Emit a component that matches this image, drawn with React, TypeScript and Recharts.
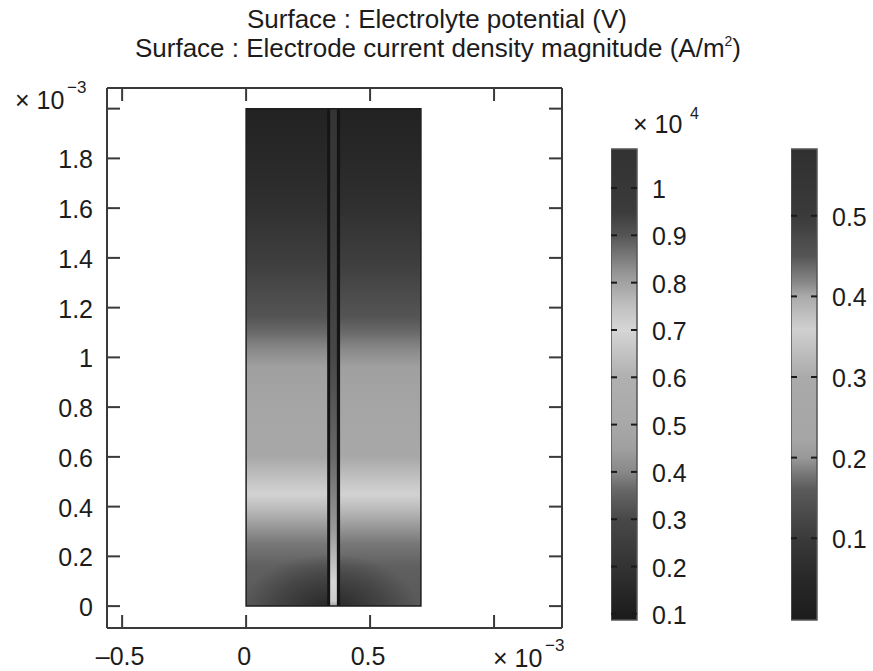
import React from "react";
import { ComposedChart, ReferenceArea, Scatter, XAxis, YAxis } from "recharts";

const FONT = "'Liberation Sans', Arial, Helvetica, sans-serif";
const INK = "#1c1c1c";
const FRAME = "#3a3a3a";
const LABEL_SIZE = 25;

// geometry in units of 1e-3 m
const xTicks = [-0.5, 0, 0.5, 1];
const xTickLabels = ["–0.5", "0", "0.5", ""];
const yTicks = [0, 0.2, 0.4, 0.6, 0.8, 1, 1.2, 1.4, 1.6, 1.8, 2];
const yTickLabels = ["0", "0.2", "0.4", "0.6", "0.8", "1", "1.2", "1.4", "1.6", "1.8", ""];
const xDomain = [-0.561, 1.274];
const yDomain = [-0.088, 2.083];

const cellX = [0, 0.705];
const cellY = [0, 2];
const electrodeX = [0.327, 0.379];
const electrodeCoreX = [0.339, 0.366];
const bottomShadowY = [0, 0.42];

// electrolyte potential shading along the cell height (y, gray level)
const fieldY = [2.0, 1.8, 1.6, 1.36, 1.16, 1.1, 1.03, 0.96, 0.8, 0.6, 0.49, 0.45, 0.39, 0.32, 0.25, 0.16, 0.02, 0];
const fieldGray = [34, 40, 48, 64, 85, 106, 138, 160, 165, 168, 200, 210, 187, 153, 119, 96, 90, 90];

// electrode current density along the electrode
const coreY = [2, 1.5, 1.0, 0.6, 0.3, 0.1, 0.02, 0];
const coreGray = [52, 58, 72, 105, 155, 212, 205, 160];

// colorbar: electrode current density (x 10^4 A/m^2)
const currentTicks = [0.1, 0.2, 0.3, 0.4, 0.5, 0.6, 0.7, 0.8, 0.9, 1];
const currentDomain = [0.087, 1.0825];
const currentStopV = [1.0825, 1.0, 0.948, 0.9, 0.82, 0.75, 0.7, 0.644, 0.6, 0.5, 0.45, 0.4, 0.36, 0.3, 0.2, 0.087];
const currentStopGray = [50, 55, 60, 85, 150, 192, 214, 192, 176, 168, 160, 136, 102, 72, 51, 26];

// colorbar: electrolyte potential (V)
const potentialTicks = [0.1, 0.2, 0.3, 0.4, 0.5];
const potentialDomain = [-0.0014, 0.5828];
const potentialStopV = [0.5828, 0.5, 0.45, 0.417, 0.4, 0.359, 0.326, 0.3, 0.222, 0.2, 0.18, 0.16, 0.1, 0.05, -0.0014];
const potentialStopGray = [48, 58, 85, 136, 170, 208, 187, 170, 165, 153, 119, 90, 58, 40, 28];

const gray = (g: number) => `rgb(${g},${g},${g})`;
const noShape = () => <g />;

const BottomTick = (p: any) => {
  const i = xTicks.indexOf(p.payload.value);
  return (
    <g>
      <line x1={p.x} x2={p.x} y1={p.y} y2={p.y - 13} stroke={FRAME} strokeWidth={2} />
      <text x={p.x - 2} y={p.y + 37} textAnchor="middle" fontSize={LABEL_SIZE} fontFamily={FONT} fill={INK}>
        {xTickLabels[i]}
      </text>
    </g>
  );
};

const TopTick = (p: any) => (
  <line x1={p.x} x2={p.x} y1={p.y} y2={p.y + 13} stroke={FRAME} strokeWidth={2} />
);

const LeftTick = (p: any) => {
  const i = yTicks.indexOf(p.payload.value);
  return (
    <g>
      <line x1={p.x} x2={p.x + 13} y1={p.y} y2={p.y} stroke={FRAME} strokeWidth={2} />
      <text x={p.x - 14} y={p.y + 10} textAnchor="end" fontSize={LABEL_SIZE} fontFamily={FONT} fill={INK}>
        {yTickLabels[i]}
      </text>
    </g>
  );
};

const RightTick = (p: any) => (
  <line x1={p.x} x2={p.x - 13} y1={p.y} y2={p.y} stroke={FRAME} strokeWidth={2} />
);

const BAR_W = 26;

const ColorBar = ({
  id,
  left,
  top,
  height,
  domain,
  ticks,
  stopV,
  stopGray,
}: {
  id: string;
  left: number;
  top: number;
  height: number;
  domain: number[];
  ticks: number[];
  stopV: number[];
  stopGray: number[];
}) => {
  const span = domain[1] - domain[0];
  const ends = [
    { x: 0, v: domain[0] },
    { x: 1, v: domain[1] },
  ];
  const barTick = (p: any) => (
    <g>
      <line x1={p.x - BAR_W} x2={p.x - BAR_W + 6} y1={p.y} y2={p.y} stroke="#1a1a1a" strokeWidth={2} />
      <line x1={p.x - 6} x2={p.x} y1={p.y} y2={p.y} stroke="#1a1a1a" strokeWidth={2} />
      <text x={p.x + 15} y={p.y + 10} textAnchor="start" fontSize={LABEL_SIZE} fontFamily={FONT} fill={INK}>
        {String(p.payload.value)}
      </text>
    </g>
  );
  return (
    <div style={{ position: "absolute", left, top: top - 20 }}>
      <ComposedChart
        width={BAR_W + 70}
        height={height + 40}
        data={ends}
        margin={{ top: 20, right: 0, bottom: 20, left: 0 }}
      >
        <defs>
          <linearGradient id={id} x1="0" y1="0" x2="0" y2="1">
            {stopV.map((v, i) => (
              <stop key={i} offset={(domain[1] - v) / span} stopColor={gray(stopGray[i])} />
            ))}
          </linearGradient>
        </defs>
        <XAxis type="number" dataKey="x" domain={[0, 1]} hide />
        <YAxis
          type="number"
          dataKey="v"
          orientation="right"
          domain={domain}
          ticks={ticks}
          interval={0}
          width={70}
          axisLine={false}
          tickLine={false}
          tickSize={0}
          tickMargin={0}
          tick={barTick}
        />
        <Scatter dataKey="v" shape={noShape} isAnimationActive={false} />
        <ReferenceArea
          x1={0}
          x2={1}
          y1={domain[0]}
          y2={domain[1]}
          fill={`url(#${id})`}
          fillOpacity={1}
          stroke="#555555"
          strokeWidth={1.5}
          ifOverflow="visible"
        />
      </ComposedChart>
    </div>
  );
};

export default function App() {
  const fieldSpan = cellY[1] - cellY[0];
  const corners = [
    { x: cellX[0], y: cellY[0] },
    { x: cellX[1], y: cellY[1] },
  ];
  return (
    <div style={{ position: "absolute", left: 0, top: 0, width: 873, height: 671, background: "#ffffff" }}>
      <div style={{ position: "absolute", left: 0, top: 0 }}>
        <ComposedChart
          width={873}
          height={671}
          data={corners}
          margin={{ top: 87, right: 310, bottom: 13, left: 47 }}
        >
          <defs>
            <linearGradient id="fieldGrad" x1="0" y1="0" x2="0" y2="1">
              {fieldY.map((v, i) => (
                <stop key={i} offset={(cellY[1] - v) / fieldSpan} stopColor={gray(fieldGray[i])} />
              ))}
            </linearGradient>
            <linearGradient id="coreGrad" x1="0" y1="0" x2="0" y2="1">
              {coreY.map((v, i) => (
                <stop key={i} offset={(cellY[1] - v) / fieldSpan} stopColor={gray(coreGray[i])} />
              ))}
            </linearGradient>
            <radialGradient id="shadowGrad" cx="0.48" cy="1" r="0.5">
              <stop offset="0" stopColor="#000" stopOpacity={0.55} />
              <stop offset="0.6" stopColor="#000" stopOpacity={0.25} />
              <stop offset="1" stopColor="#000" stopOpacity={0} />
            </radialGradient>
          </defs>
          <XAxis
            xAxisId="b"
            dataKey="x"
            type="number"
            domain={xDomain}
            ticks={xTicks}
            interval={0}
            allowDataOverflow
            height={30}
            tickSize={0}
            tickMargin={0}
            tickLine={false}
            axisLine={{ stroke: FRAME, strokeWidth: 2 }}
            tick={BottomTick}
          />
          <XAxis
            xAxisId="t"
            dataKey="x"
            orientation="top"
            type="number"
            domain={xDomain}
            ticks={xTicks}
            interval={0}
            allowDataOverflow
            height={1}
            tickSize={0}
            tickMargin={0}
            tickLine={false}
            axisLine={{ stroke: FRAME, strokeWidth: 2 }}
            tick={TopTick}
          />
          <YAxis
            yAxisId="l"
            dataKey="y"
            type="number"
            domain={yDomain}
            ticks={yTicks}
            interval={0}
            allowDataOverflow
            width={60}
            tickSize={0}
            tickMargin={0}
            tickLine={false}
            axisLine={{ stroke: FRAME, strokeWidth: 2 }}
            tick={LeftTick}
          />
          <YAxis
            yAxisId="r"
            dataKey="y"
            orientation="right"
            type="number"
            domain={yDomain}
            ticks={yTicks}
            interval={0}
            allowDataOverflow
            width={1}
            tickSize={0}
            tickMargin={0}
            tickLine={false}
            axisLine={{ stroke: FRAME, strokeWidth: 2 }}
            tick={RightTick}
          />
          <Scatter xAxisId="b" yAxisId="l" dataKey="y" shape={noShape} isAnimationActive={false} />
          <Scatter xAxisId="t" yAxisId="r" dataKey="y" shape={noShape} isAnimationActive={false} />
          <ReferenceArea
            xAxisId="b"
            yAxisId="l"
            x1={cellX[0]}
            x2={cellX[1]}
            y1={cellY[0]}
            y2={cellY[1]}
            fill="url(#fieldGrad)"
            fillOpacity={1}
            stroke="none"
          />
          <ReferenceArea
            xAxisId="b"
            yAxisId="l"
            x1={cellX[0]}
            x2={cellX[1]}
            y1={bottomShadowY[0]}
            y2={bottomShadowY[1]}
            fill="url(#shadowGrad)"
            fillOpacity={1}
            stroke="none"
          />
          <ReferenceArea
            xAxisId="b"
            yAxisId="l"
            x1={electrodeX[0]}
            x2={electrodeX[1]}
            y1={cellY[0]}
            y2={cellY[1]}
            fill="#141414"
            fillOpacity={1}
            stroke="none"
          />
          <ReferenceArea
            xAxisId="b"
            yAxisId="l"
            x1={electrodeCoreX[0]}
            x2={electrodeCoreX[1]}
            y1={cellY[0]}
            y2={cellY[1]}
            fill="url(#coreGrad)"
            fillOpacity={1}
            stroke="none"
          />
          <ReferenceArea
            xAxisId="b"
            yAxisId="l"
            x1={cellX[0]}
            x2={cellX[1]}
            y1={cellY[0]}
            y2={cellY[1]}
            fill="none"
            stroke="#1e1e1e"
            strokeWidth={1.5}
          />
        </ComposedChart>
      </div>

      <ColorBar
        id="currentBar"
        left={611}
        top={149}
        height={471}
        domain={currentDomain}
        ticks={currentTicks}
        stopV={currentStopV}
        stopGray={currentStopGray}
      />
      <ColorBar
        id="potentialBar"
        left={791}
        top={149}
        height={471}
        domain={potentialDomain}
        ticks={potentialTicks}
        stopV={potentialStopV}
        stopGray={potentialStopGray}
      />

      <svg
        width={873}
        height={671}
        style={{ position: "absolute", left: 0, top: 0, pointerEvents: "none" }}
        fontFamily={FONT}
        fill={INK}
      >
        <text x={437} y={28} textAnchor="middle" fontSize={26}>
          Surface : Electrolyte potential (V)
        </text>
        <text x={438} y={57} textAnchor="middle" fontSize={26}>
          Surface : Electrode current density magnitude (A/m
          <tspan fontSize={14} dy={-11}>2</tspan>
          <tspan dy={11}>)</tspan>
        </text>
        <text x={15} y={109} fontSize={LABEL_SIZE}>
          × 10
        </text>
        <text x={67} y={93} fontSize={17}>
          −3
        </text>
        <text x={493} y={667} fontSize={LABEL_SIZE}>
          × 10
        </text>
        <text x={545} y={651} fontSize={17}>
          −3
        </text>
        <text x={633} y={133} fontSize={LABEL_SIZE}>
          × 10
        </text>
        <text x={690} y={119} fontSize={16}>
          4
        </text>
      </svg>
    </div>
  );
}
